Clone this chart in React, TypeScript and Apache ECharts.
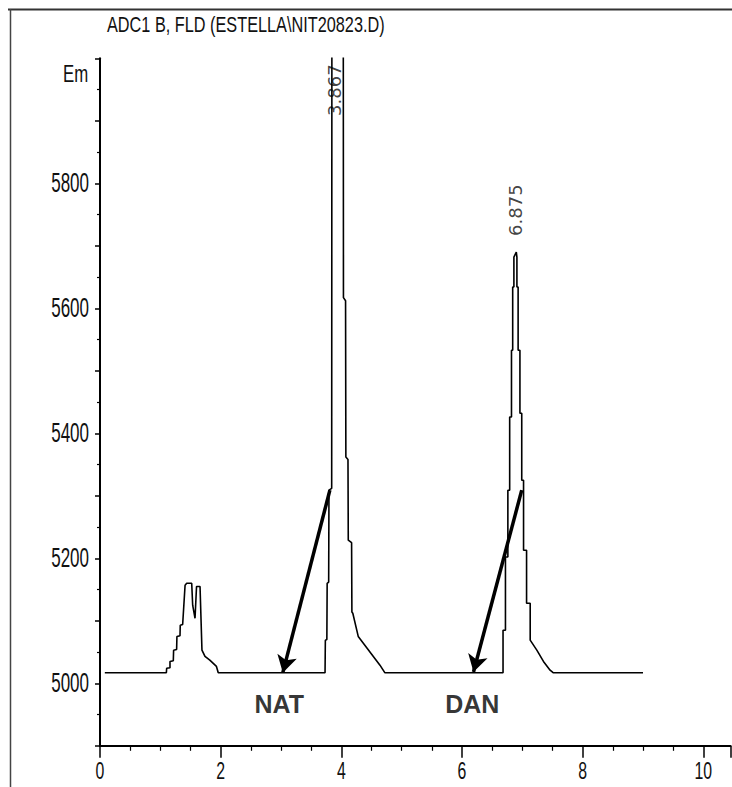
import React, { useEffect, useRef } from "react";
import * as echarts from "echarts";

// Retention time (min) and fluorescence signal (Em) of the trace
const traceTime = [
  0.08, 1.1, 1.105, 1.16, 1.16, 1.215, 1.22, 1.27, 1.275, 1.326, 1.33, 1.37, 1.41, 1.437, 1.52, 1.536, 1.575,
  1.6, 1.658, 1.69, 1.74, 1.82, 1.93, 1.96,
  3.73, 3.735, 3.76, 3.765, 3.79, 3.795, 3.84, 3.845, 4.03, 4.035, 4.07, 4.075, 4.11, 4.115, 4.17, 4.175,
  4.19, 4.28, 4.64, 4.72,
  6.68, 6.68, 6.72, 6.72, 6.76, 6.76, 6.79, 6.79, 6.82, 6.82, 6.84, 6.84, 6.86, 6.86, 6.9, 6.91, 6.91, 6.93,
  6.93, 6.96, 6.96, 6.99, 6.99, 7.02, 7.02, 7.07, 7.07, 7.13, 7.13, 7.24, 7.35, 7.46, 7.51,
  9.0,
];
const traceSignal = [
  5017, 5017, 5024, 5025, 5035, 5036, 5053, 5054, 5075, 5076, 5093, 5094, 5157, 5160, 5160, 5125, 5104,
  5155, 5155, 5053, 5043, 5037, 5027, 5017,
  5017, 5069, 5070, 5160, 5162, 5309, 5312, 6400, 6400, 5617, 5612, 5362, 5358, 5229, 5225, 5114,
  5112, 5075, 5029, 5017,
  5017, 5085, 5085, 5202, 5202, 5309, 5309, 5426, 5426, 5533, 5533, 5634, 5634, 5682, 5690, 5682, 5634, 5634,
  5533, 5533, 5432, 5432, 5325, 5325, 5213, 5213, 5128, 5128, 5069, 5053, 5035, 5021, 5017,
  5017,
];

// Peak retention-time labels
const peakLabels = ["3.867", "6.875"];
const peakLabelTimes = [3.89, 6.88];
const peakLabelLevels = [5949, 5757];

// Annotations (arrow start -> arrow end, text)
const annotationNames = ["NAT", "DAN"];
const arrowStartTimes = [3.81, 6.99];
const arrowStartLevels = [5309, 5309];
const arrowEndTimes = [3.03, 6.19];
const arrowEndLevels = [5017, 5018];
const annotationTextTimes = [2.97, 6.17];
const annotationTextLevels = [4967, 4967];

// Axes
const xMin = 0;
const xMax = 10.45;
const xTickLabels = [0, 2, 4, 6, 8, 10];
const yMin = 4900;
const yMax = 6000;
const yTickLabels = [5000, 5200, 5400, 5600, 5800];

const titleText = "ADC1 B, FLD (ESTELLA\\NIT20823.D)";
const yUnit = "Em";

const SANS = "'Liberation Sans', Arial, sans-serif";

export default function App() {
  const ref = useRef<HTMLDivElement>(null);

  useEffect(() => {
    if (!ref.current) return;
    const chart = echarts.init(ref.current, null, { renderer: "svg" });

    const trace = traceTime.map((t, i) => [t, traceSignal[i]]);
    const arrows = annotationNames.map((_, i) => [
      { coord: [arrowStartTimes[i], arrowStartLevels[i]] },
      { coord: [arrowEndTimes[i], arrowEndLevels[i]] },
    ]);

    chart.setOption({
      animation: false,
      backgroundColor: "#ffffff",
      grid: { left: 100, right: 1.5, top: 58.3, bottom: 41.2, containLabel: false },
      graphic: [
        { type: "line", shape: { x1: 8, y1: 9.5, x2: 732, y2: 9.5 }, style: { stroke: "#333", lineWidth: 2 } },
        { type: "line", shape: { x1: 10.5, y1: 9, x2: 10.5, y2: 787 }, style: { stroke: "#444", lineWidth: 1.5 } },
        {
          type: "text",
          x: 107,
          y: 13,
          scaleX: 0.74,
          style: { text: titleText, font: `22px ${SANS}`, fill: "#111" },
        },
        {
          type: "text",
          x: 63,
          y: 61,
          scaleX: 0.7,
          style: { text: yUnit, font: `24px ${SANS}`, fill: "#111" },
        },
      ],
      xAxis: {
        type: "value",
        min: xMin,
        max: xMax,
        interval: 2,
        axisLine: { show: true, lineStyle: { color: "#000", width: 2 } },
        axisTick: { show: true, length: 12, lineStyle: { color: "#000", width: 1.5 } },
        minorTick: { show: true, splitNumber: 4, length: 5, lineStyle: { color: "#000", width: 1.2 } },
        splitLine: { show: false },
        axisLabel: { show: false },
      },
      yAxis: {
        type: "value",
        min: yMin,
        max: yMax,
        interval: 100,
        axisLine: { show: true, lineStyle: { color: "#000", width: 2 } },
        axisTick: { show: true, length: 5, lineStyle: { color: "#000", width: 1.5 } },
        minorTick: { show: true, splitNumber: 2, length: 3, lineStyle: { color: "#000", width: 1.2 } },
        splitLine: { show: false },
        axisLabel: { show: false },
      },
      series: [
        {
          type: "line",
          data: trace,
          symbol: "none",
          clip: true,
          lineStyle: { color: "#000", width: 1.6 },
          silent: true,
          markLine: {
            silent: true,
            symbol: ["none", "arrow"],
            symbolSize: [15, 17],
            label: { show: false },
            lineStyle: { color: "#000", width: 3.5, type: "solid" },
            data: arrows,
          },
        },
        {
          // y tick labels (condensed, like the original print)
          type: "custom",
          silent: true,
          data: yTickLabels.map((v) => [xMin, v]),
          renderItem: (params: any, api: any) => {
            const p = api.coord([api.value(0), api.value(1)]);
            return {
              type: "text",
              x: p[0] - 11,
              y: p[1],
              scaleX: 0.63,
              style: {
                text: String(api.value(1)),
                font: `27px ${SANS}`,
                fill: "#111",
                align: "right",
                verticalAlign: "middle",
              },
            };
          },
        },
        {
          // x tick labels
          type: "custom",
          silent: true,
          data: xTickLabels.map((v) => [v, yMin]),
          renderItem: (params: any, api: any) => {
            const p = api.coord([api.value(0), api.value(1)]);
            return {
              type: "text",
              x: p[0],
              y: p[1] + 25,
              scaleX: 0.66,
              style: {
                text: String(api.value(0)),
                font: `24px ${SANS}`,
                fill: "#111",
                align: "center",
                verticalAlign: "middle",
              },
            };
          },
        },
        {
          type: "scatter",
          symbolSize: 0,
          silent: true,
          data: peakLabels.map((s, i) => [peakLabelTimes[i], peakLabelLevels[i], s]),
          label: {
            show: true,
            position: "inside",
            rotate: 90,
            formatter: (p: any) => p.data[2],
            fontFamily: "'DejaVu Sans', sans-serif",
            fontSize: 18,
            color: "#111",
          },
        },
        {
          type: "scatter",
          symbolSize: 0,
          silent: true,
          data: annotationNames.map((s, i) => [annotationTextTimes[i], annotationTextLevels[i], s]),
          label: {
            show: true,
            position: "inside",
            formatter: (p: any) => p.data[2],
            fontFamily: SANS,
            fontWeight: "bold",
            fontSize: 25,
            color: "#000",
          },
        },
      ],
    });

    return () => chart.dispose();
  }, []);

  return (
    <div
      ref={ref}
      style={{ position: "fixed", left: 0, top: 0, width: 732, height: 787, background: "#fff" }}
    />
  );
}
